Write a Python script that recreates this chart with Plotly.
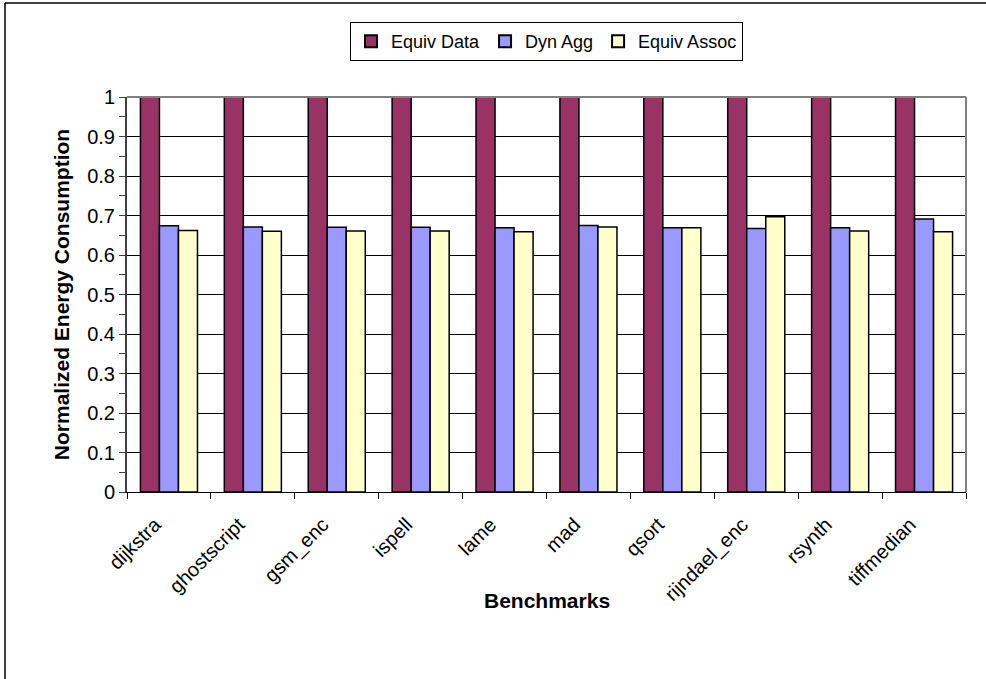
import plotly.graph_objects as go

benchmarks = ["dijkstra", "ghostscript", "gsm_enc", "ispell", "lame",
              "mad", "qsort", "rijndael_enc", "rsynth", "tiffmedian"]
equiv_data = [1.0, 1.0, 1.0, 1.0, 1.0, 1.0, 1.0, 1.0, 1.0, 1.0]
dyn_agg = [0.674, 0.671, 0.670, 0.670, 0.669, 0.675, 0.669, 0.667, 0.669, 0.691]
equiv_assoc = [0.662, 0.660, 0.661, 0.661, 0.659, 0.671, 0.669, 0.697, 0.661, 0.659]

y_tick_vals = [0, 0.1, 0.2, 0.3, 0.4, 0.5, 0.6, 0.7, 0.8, 0.9, 1]
y_tick_text = ["0", "0.1", "0.2", "0.3", "0.4", "0.5", "0.6", "0.7", "0.8", "0.9", "1"]

series = [
    ("Equiv Data", equiv_data, "#993366"),
    ("Dyn Agg", dyn_agg, "#9999FF"),
    ("Equiv Assoc", equiv_assoc, "#FFFFCC"),
]

FONT = "Liberation Sans, Arial, sans-serif"

fig = go.Figure()
for name, vals, color in series:
    fig.add_trace(go.Bar(
        name=name, x=benchmarks, y=vals,
        marker=dict(color=color, line=dict(color="#000000", width=1.5)),
    ))

W, H = 986, 679
L, R, T, B = 127, 20, 97, 187
pw, ph = W - L - R, H - T - B

def px_x(p):
    return (p - L) / pw

def px_y(p):
    return (H - B - p) / ph

fig.update_layout(
    width=W, height=H,
    margin=dict(l=L, r=R, t=T, b=B),
    paper_bgcolor="white", plot_bgcolor="white",
    barmode="group", bargap=0.32, bargroupgap=0.0,
    font=dict(family=FONT, size=20, color="#000000"),
    legend=dict(
        orientation="h", x=0.5, xanchor="center", y=px_y(22), yanchor="top",
        bordercolor="#000000", borderwidth=1, bgcolor="white",
        font=dict(size=18), itemsizing="constant", traceorder="normal",
        itemwidth=30, tracegroupgap=0,
    ),
    showlegend=True,
    xaxis=dict(
        type="category", tickangle=-45, ticks="outside", tickson="boundaries",
        ticklen=6, tickcolor="#000000", tickwidth=1,
        showline=True, linecolor="#000000", linewidth=1,
        tickfont=dict(size=20), ticklabelstandoff=12, ticklabelshift=-14,
    ),
    yaxis=dict(
        range=[0, 1], tickmode="array", tickvals=y_tick_vals, ticktext=y_tick_text,
        ticks="outside", ticklen=6, tickcolor="#404040", tickwidth=1,
        showline=True, linecolor="#404040", linewidth=2,
        showgrid=True, gridcolor="#000000", gridwidth=1,
        zeroline=False,
        minor=dict(dtick=0.05, ticks="outside", ticklen=6, tickcolor="#404040", showgrid=False),
        tickfont=dict(size=20),
        title=dict(text="<b>Normalized Energy Consumption</b>", font=dict(size=21), standoff=12),
    ),
    annotations=[
        dict(text="<b>Benchmarks</b>", xref="paper", yref="paper",
             x=0.5, y=px_y(600), xanchor="center", yanchor="middle",
             showarrow=False, font=dict(size=21)),
    ],
    shapes=[
        # gray plot-area frame on top and right
        dict(type="line", xref="paper", yref="paper", x0=0, x1=1, y0=1, y1=1,
             line=dict(color="#808080", width=2)),
        dict(type="line", xref="paper", yref="paper", x0=1, x1=1, y0=0, y1=1,
             line=dict(color="#808080", width=2)),
        # outer chart border
        dict(type="line", xref="paper", yref="paper",
             x0=px_x(5), x1=px_x(5), y0=px_y(3), y1=px_y(700),
             line=dict(color="#000000", width=1.5)),
        dict(type="line", xref="paper", yref="paper",
             x0=px_x(5), x1=px_x(1000), y0=px_y(3), y1=px_y(3),
             line=dict(color="#000000", width=1.5)),
    ],
)

fig.write_html("out.html")
